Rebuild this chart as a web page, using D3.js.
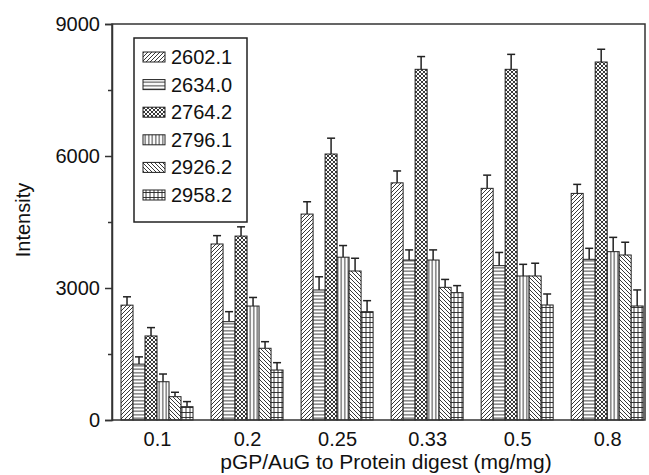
<!DOCTYPE html>
<html><head><meta charset="utf-8">
<script src="https://cdn.jsdelivr.net/npm/d3@7"></script>
<style>body{margin:0;background:#fff;} text{font-family:"Liberation Sans",Arial,sans-serif;}</style>
</head><body>
<svg id="chart" width="649" height="475"></svg>
<script>
const categories = ["0.1","0.2","0.25","0.33","0.5","0.8"];
const seriesNames = ["2602.1","2634.0","2764.2","2796.1","2926.2","2958.2"];
const v2602 = [2610, 4000, 4680, 5390, 5265, 5150];
const e2602 = [190, 190, 280, 270, 300, 205];
const v2634 = [1270, 2235, 2955, 3636, 3508, 3652];
const e2634 = [165, 227, 300, 230, 300, 250];
const v2764 = [1910, 4180, 6045, 7970, 7970, 8136];
const e2764 = [190, 210, 360, 290, 340, 290];
const v2796 = [870, 2590, 3700, 3636, 3273, 3826];
const e2796 = [175, 195, 265, 230, 265, 325];
const v2926 = [530, 1630, 3386, 3015, 3273, 3750];
const e2926 = [100, 150, 290, 180, 290, 290];
const v2958 = [303, 1136, 2462, 2894, 2614, 2591];
const e2958 = [115, 167, 250, 160, 250, 365];
const yTicks = [0, 3000, 6000, 9000];
const yMinorTicks = [1500, 4500, 7500];

const values = [v2602, v2634, v2764, v2796, v2926, v2958];
const errors = [e2602, e2634, e2764, e2796, e2926, e2958];

const svg = d3.select("#chart");
const L = 112, R = 645, T = 24, B = 420;
const x = d3.scaleLinear().domain([-0.5, 5.42]).range([L, R]);
const y = d3.scaleLinear().domain([0, 9000]).range([B, T]);
const barW = 12;
const sub = d3.scaleBand().domain(seriesNames).range([-36, 36]);

// patterns
const defs = svg.append("defs");
const ink = "#222";
function pat(id, w, h, d, sw) {
  const p = defs.append("pattern").attr("id", id).attr("patternUnits", "userSpaceOnUse")
    .attr("width", w).attr("height", h);
  p.append("rect").attr("width", w).attr("height", h).attr("fill", "#fff");
  p.append("path").attr("d", d).attr("stroke", ink).attr("stroke-width", sw || 0.9).attr("fill", "none");
}
pat("p0", 4, 4, "M-1,1 l2,-2 M0,4 l4,-4 M3,5 l2,-2");
pat("p1", 4, 3.5, "M0,1.75 H4");
pat("p2", 4, 4, "M-1,1 l2,-2 M0,4 l4,-4 M3,5 l2,-2 M-1,3 l2,2 M0,0 l4,4 M3,-1 l2,2", 0.9);
pat("p3", 3.5, 4, "M1.75,0 V4");
pat("p4", 4, 4, "M-1,3 l2,2 M0,0 l4,4 M3,-1 l2,2");
pat("p5", 4, 5, "M2,0 V5 M0,2.5 H4");

// bars
const g = svg.append("g");
seriesNames.forEach((s, si) => {
  const data = categories.map((c, ci) => ({ci, v: values[si][ci], e: errors[si][ci]}));
  const gs = g.append("g");
  gs.selectAll("line.err").data(data).enter().append("line")
    .attr("x1", d => x(d.ci) + sub(s) + barW / 2).attr("x2", d => x(d.ci) + sub(s) + barW / 2)
    .attr("y1", d => y(d.v)).attr("y2", d => y(d.v + d.e))
    .attr("stroke", ink).attr("stroke-width", 1.5);
  gs.selectAll("line.cap").data(data).enter().append("line")
    .attr("x1", d => x(d.ci) + sub(s) + barW / 2 - 4).attr("x2", d => x(d.ci) + sub(s) + barW / 2 + 4)
    .attr("y1", d => y(d.v + d.e)).attr("y2", d => y(d.v + d.e))
    .attr("stroke", ink).attr("stroke-width", 1.5);
  gs.selectAll("rect").data(data).enter().append("rect")
    .attr("x", d => x(d.ci) + sub(s)).attr("width", barW)
    .attr("y", d => y(d.v)).attr("height", d => y(0) - y(d.v))
    .attr("fill", `url(#p${si})`).attr("stroke", ink).attr("stroke-width", 1);
});

// frame
svg.append("rect").attr("x", L).attr("y", T).attr("width", R - L).attr("height", B - T)
  .attr("fill", "none").attr("stroke", "#333").attr("stroke-width", 1.5);

// y axis
const yAxis = d3.axisLeft(y).tickValues(yTicks).tickSize(7).tickPadding(5).tickFormat(d3.format("d"));
const ya = svg.append("g").attr("transform", `translate(${L},0)`).call(yAxis);
ya.select(".domain").attr("stroke", "#333").attr("stroke-width", 1.5);
ya.selectAll(".tick line").attr("stroke", "#333").attr("stroke-width", 1.5);
ya.selectAll("text").attr("font-size", 20).attr("fill", "#111");
const yMinor = d3.axisLeft(y).tickValues(yMinorTicks).tickSize(4).tickFormat("");
const ym = svg.append("g").attr("transform", `translate(${L},0)`).call(yMinor);
ym.select(".domain").remove();
ym.selectAll(".tick line").attr("stroke", "#333").attr("stroke-width", 1.5);

// x labels
const xa = d3.axisBottom(x).tickValues(d3.range(categories.length)).tickSize(0).tickPadding(12)
  .tickFormat(i => categories[i]);
const xg = svg.append("g").attr("transform", `translate(0,${B})`).call(xa);
xg.select(".domain").remove();
xg.selectAll("text").attr("font-size", 20).attr("fill", "#111");

// axis titles
svg.append("text").attr("x", 386).attr("y", 469).attr("text-anchor", "middle")
  .attr("font-size", 21).attr("fill", "#111").text("pGP/AuG to Protein digest (mg/mg)");
svg.append("text").attr("transform", `translate(30,220) rotate(-90)`)
  .attr("text-anchor", "middle").attr("font-size", 20).attr("fill", "#111").text("Intensity");

// legend
const lg = svg.append("g");
lg.append("rect").attr("x", 134).attr("y", 38).attr("width", 113).attr("height", 184)
  .attr("fill", "#fff").attr("stroke", "#222").attr("stroke-width", 1.5);
const rowY = d3.scalePoint().domain(seriesNames).range([57, 195]);
seriesNames.forEach((s, si) => {
  lg.append("rect").attr("x", 143).attr("y", rowY(s) - 5).attr("width", 22).attr("height", 10)
    .attr("fill", `url(#p${si})`).attr("stroke", ink).attr("stroke-width", 1);
  lg.append("text").attr("x", 171).attr("y", rowY(s)).attr("dy", "0.35em")
    .attr("font-size", 20).attr("fill", "#111").text(s);
});
</script>
</body></html>
